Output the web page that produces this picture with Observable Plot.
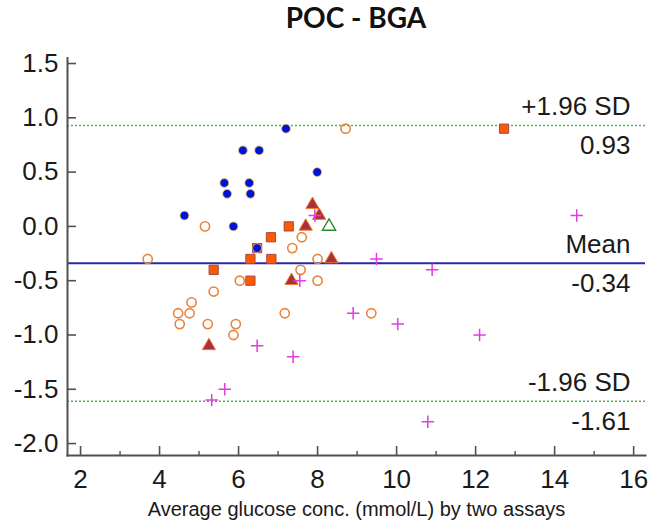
<!DOCTYPE html>
<html><head><meta charset="utf-8">
<script src="https://cdn.jsdelivr.net/npm/d3@7"></script>
<script src="https://cdn.jsdelivr.net/npm/@observablehq/plot@0.6"></script>
<style>
body{margin:0;background:#fff;}
#title{height:45px;line-height:46px;padding-left:67px;width:578px;text-align:center;font:bold 28px Lato, "Open Sans", sans-serif;color:#111;}
</style></head><body>
<div id="title">POC - BGA</div>
<div id="chart"></div>
<script>
// Series: filled blue circles
const blueX = [7.2, 6.11, 6.52, 7.99, 5.64, 6.27, 5.71, 6.30, 4.63, 5.87, 6.47];
const blueY = [0.9, 0.7, 0.7, 0.5, 0.4, 0.4, 0.3, 0.3, 0.1, 0.0, -0.2];
// Series: open orange circles
const circleX = [8.71, 5.15, 3.70, 7.60, 7.36, 8.0, 7.57, 6.03, 8.0, 5.37, 4.81, 4.47, 4.76, 7.17, 4.51, 5.22, 5.93, 5.87, 9.36];
const circleY = [0.9, 0.0, -0.3, -0.1, -0.2, -0.3, -0.4, -0.5, -0.5, -0.6, -0.7, -0.8, -0.8, -0.8, -0.9, -0.9, -0.9, -1.0, -0.8];
// Series: orange squares
const squareX = [12.72, 7.27, 6.82, 6.30, 6.83, 5.37, 6.30, 6.47];
const squareY = [0.9, 0.0, -0.1, -0.3, -0.3, -0.4, -0.5, -0.2];
// Series: filled dark-red triangles
const triX = [7.87, 8.04, 7.70, 8.35, 7.34, 5.25];
const triY = [0.2, 0.1, 0.0, -0.3, -0.5, -1.1];
// Series: open green triangle
const openTriX = [8.29];
const openTriY = [0.0];
// Series: magenta plus
const plusX = [7.93, 7.55, 14.56, 9.49, 10.90, 8.90, 10.03, 12.10, 7.38, 10.79, 6.47, 5.65, 5.32];
const plusY = [0.1, -0.5, 0.1, -0.3, -0.4, -0.8, -0.9, -1.0, -1.2, -1.8, -1.1, -1.5, -1.6];

// Limits of agreement
const limitValues = [0.93, -0.34, -1.61];
const limitNames = ["+1.96 SD", "Mean", "-1.96 SD"];
const limitTexts = ["0.93", "-0.34", "-1.61"];

// Ticks and labels
const yTicks = [1.5, 1.0, 0.5, 0.0, -0.5, -1.0, -1.5, -2.0];
const xMajor = [2, 4, 6, 8, 10, 12, 14, 16];
const xMinor = [3, 5, 7, 9, 11, 13, 15];
const xLabel = "Average glucose conc. (mmol/L) by two assays";

const rows = (xs, ys) => xs.map((x, i) => ({x, y: ys[i]}));
const limits = limitValues.map((v, i) => ({y: v, name: limitNames[i], value: limitTexts[i]}));

const axisColor = "#505050";

const chart = Plot.plot({
  width: 652,
  height: 480,
  marginLeft: 67,
  marginRight: 7,
  marginTop: 12.6,
  marginBottom: 70,
  style: {fontFamily: "'Liberation Sans', Arial, sans-serif", fontSize: "26px", background: "#fff", color: "#1a1a1a"},
  x: {domain: [1.67, 16.3], label: null},
  y: {domain: [-2.11, 1.55], label: null},
  marks: [
    Plot.ruleY([limitValues[0], limitValues[2]], {stroke: "#4caf50", strokeWidth: 1.5, strokeDasharray: "2,2"}),
    Plot.ruleY([limitValues[1]], {stroke: "#2828a8", strokeWidth: 2}),
    Plot.frame({anchor: "left", stroke: axisColor, strokeWidth: 2}),
    Plot.frame({anchor: "bottom", stroke: axisColor, strokeWidth: 2}),
    Plot.axisY({ticks: yTicks, tickSize: -9, text: null, stroke: axisColor, strokeWidth: 1.6, label: null}),
    Plot.axisY({ticks: yTicks, tickSize: 0, tickPadding: 9, tickFormat: d => d.toFixed(1), label: null}),
    Plot.axisX({ticks: xMajor, tickSize: -9, text: null, stroke: axisColor, strokeWidth: 1.6, label: null}),
    Plot.axisX({ticks: xMinor, tickSize: -4, text: null, stroke: axisColor, strokeWidth: 1.4, label: null}),
    Plot.axisX({ticks: xMajor, tickSize: 0, tickPadding: 14, tickFormat: d => String(d), label: null}),
    Plot.text([xLabel], {text: d => d, frameAnchor: "bottom", lineAnchor: "bottom", dy: 60, fontSize: 20}),
    Plot.text(limits, {y: "y", text: "name", frameAnchor: "right", textAnchor: "end", lineAnchor: "bottom", dx: -15, dy: -10}),
    Plot.text(limits, {y: "y", text: "value", frameAnchor: "right", textAnchor: "end", lineAnchor: "top", dx: -15, dy: 10}),
    Plot.dot(rows(circleX, circleY), {x: "x", y: "y", r: 4.6, stroke: "#e8843c", strokeWidth: 1.6, fill: "none"}),
    Plot.dot(rows(squareX, squareY), {x: "x", y: "y", symbol: "square", r: 5.2, fill: "#ff5a00", stroke: "#a04848", strokeWidth: 1}),
    Plot.dot(rows(triX, triY), {x: "x", y: "y", symbol: "triangle", r: 4.9, fill: "#a8323a", stroke: "#f07830", strokeWidth: 1}),
    Plot.dot(rows(openTriX, openTriY), {x: "x", y: "y", symbol: "triangle", r: 4.9, fill: "none", stroke: "#2a8a2a", strokeWidth: 1.4}),
    Plot.dot(rows(blueX, blueY), {x: "x", y: "y", r: 4.4, fill: "#0014d4", stroke: "#e8c060", strokeWidth: 0.8}),
    Plot.dot(rows(plusX, plusY), {x: "x", y: "y", symbol: "plus", r: 4.1, stroke: "#e03ce0", strokeWidth: 1.5})
  ]
});
document.getElementById("chart").appendChild(chart);
</script>
</body></html>
